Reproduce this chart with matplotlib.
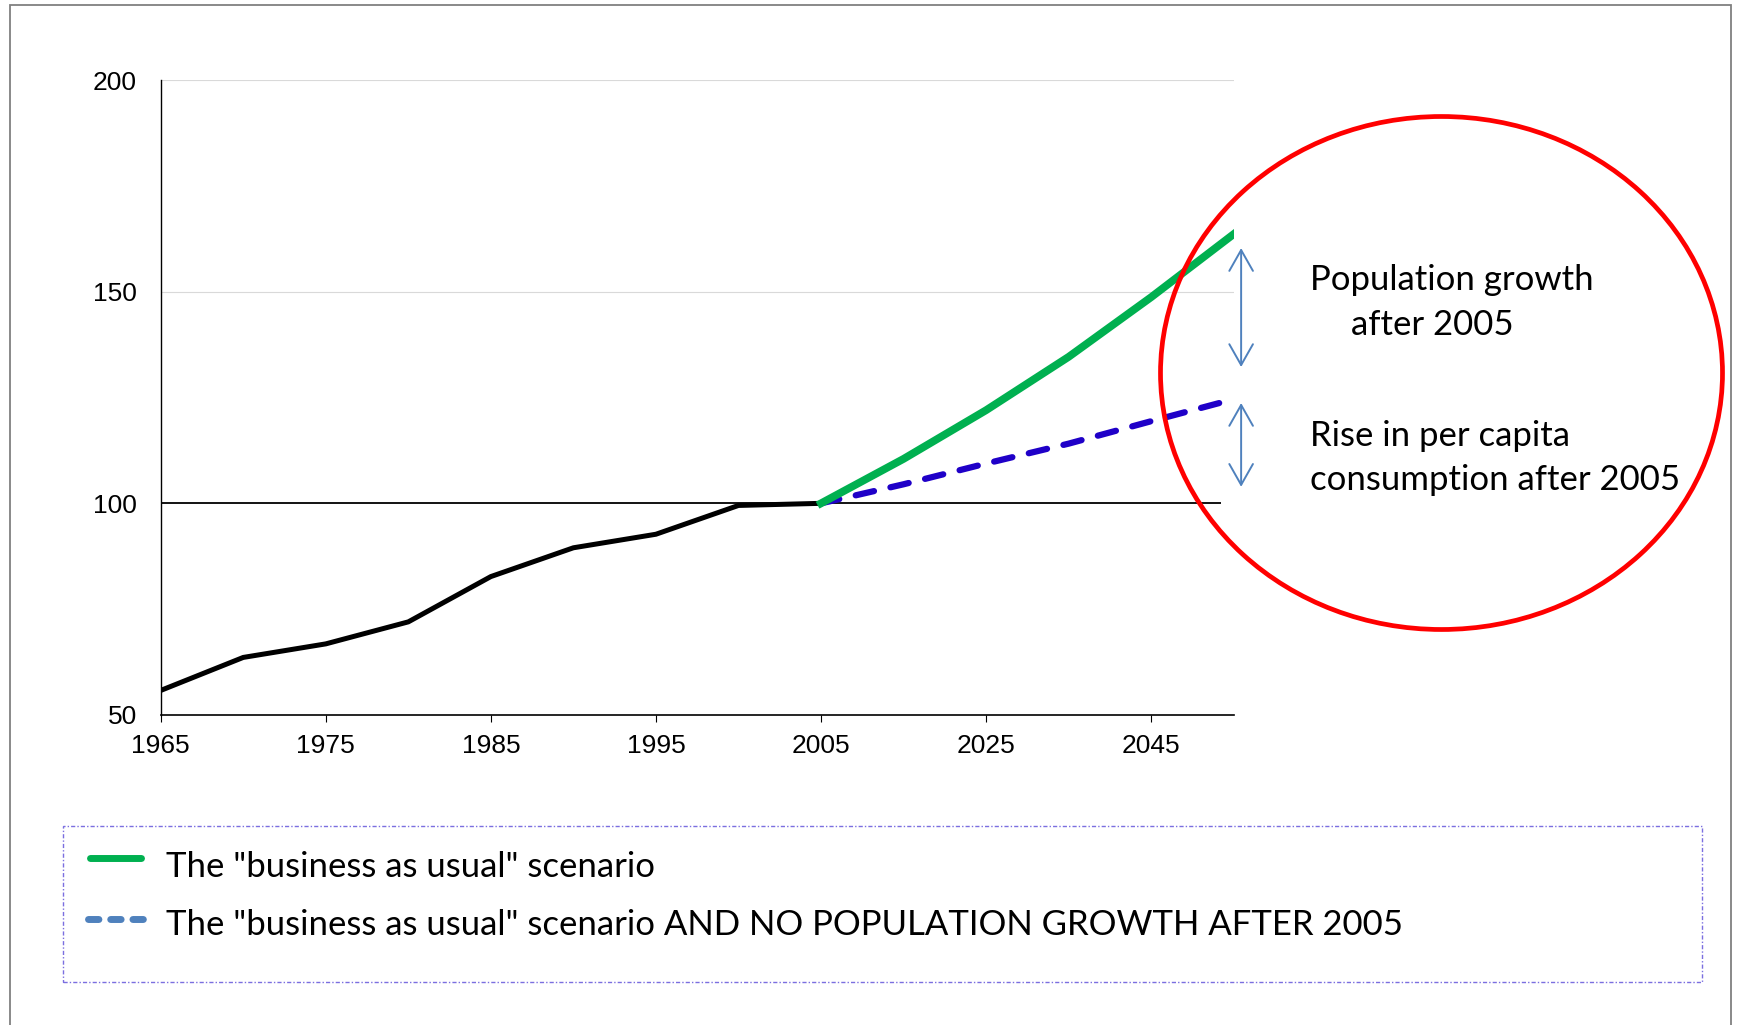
import matplotlib
matplotlib.use('Agg')
import matplotlib.pyplot as plt
from matplotlib.patches import Ellipse, Rectangle
from matplotlib.lines import Line2D
import numpy as np

# Category axis: five-year steps up to 2005, then ten-year steps
years = ['1965', '1970', '1975', '1980', '1985', '1990', '1995', '2000', '2005',
         '2015', '2025', '2035', '2045', '2050']
historic = [55.8, 63.6, 66.8, 72.0, 82.7, 89.5, 92.7, 99.5, 100.0]
business_as_usual = [100.0, 110.5, 122.0, 134.6, 148.7, 163.6]
no_population_growth = [100.0, 104.5, 109.4, 114.1, 119.4, 124.6]
y_ticks = [50, 100, 150, 200]

# Bracketed gaps at the right end (value ranges)
gap_population = (160.3, 132.2)
gap_per_capita = (123.7, 103.9)

W, H = 1738, 1025
fig = plt.figure(figsize=(W / 100, H / 100), dpi=100)
ax = fig.add_axes([160.7 / W, 1 - 715 / H, (1233.7 - 160.7) / W, (715 - 80) / H])

x_hist = np.arange(len(historic))
x_proj = np.arange(len(historic) - 1, len(years))

for v in [150, 200]:
    ax.axhline(v, color='#D9D9D9', lw=0.8, zorder=0)
ax.hlines(100, 0, 12.85, color='black', lw=1.3, zorder=1)

ax.plot(x_hist, historic, color='black', lw=3.6, solid_joinstyle='miter', zorder=3)
ax.plot(x_proj, no_population_growth, color='#1F00C8', lw=4.5,
        dashes=(3.0, 2.7), dash_capstyle='round', zorder=3)
ax.plot(x_proj, business_as_usual, color='#00B050', lw=5.6, zorder=4)

ax.set_xlim(0, len(years) - 1)
ax.set_ylim(50, 200)
ax.set_yticks(y_ticks)
ax.set_xticks(np.arange(0, len(years), 2))
ax.set_xticklabels(years[::2])

for s in ['top', 'right']:
    ax.spines[s].set_visible(False)
ax.spines['left'].set_linewidth(1.0)
ax.spines['bottom'].set_linewidth(1.2)
ax.tick_params(axis='y', length=0, pad=17, labelsize=19)
ax.tick_params(axis='x', length=5, width=0.8, direction='out', pad=9, labelsize=19)
for lbl in ax.get_xticklabels() + ax.get_yticklabels():
    lbl.set_fontfamily('Liberation Sans')

# Double-headed arrows next to the end of the projections
arrow_x = 13.09
for top, bottom in [gap_population, gap_per_capita]:
    ax.annotate('', xy=(arrow_x, top), xytext=(arrow_x, bottom),
                arrowprops=dict(arrowstyle='<->,head_length=1.5,head_width=0.85',
                                color='#4F81BD', lw=1.4, shrinkA=0, shrinkB=0),
                annotation_clip=False)

# Red ellipse around the annotation
fig.add_artist(Ellipse((1441.5 / W, 1 - 373 / H), 562 / W, 513 / H,
                       transform=fig.transFigure, fill=False,
                       edgecolor='#FF0000', lw=3.4))

note_font = dict(family='Lato', fontsize=25, color='black', va='center', ha='left')
fig.text(1310 / W, 1 - 280 / H, 'Population growth', **note_font)
fig.text(1351 / W, 1 - 325 / H, 'after 2005', **note_font)
fig.text(1310 / W, 1 - 436 / H, 'Rise in per capita', **note_font)
fig.text(1310 / W, 1 - 480 / H, 'consumption after 2005', **note_font)

# Legend panel with dotted frame
fig.add_artist(Rectangle((63 / W, 1 - 982 / H), (1702 - 63) / W, (982 - 826) / H,
                         transform=fig.transFigure, fill=False,
                         edgecolor='#7B6FE0', lw=1.0, linestyle=(0, (3, 1.5, 1, 1.5))))
fig.add_artist(Line2D([90 / W, 141 / W], [1 - 858 / H, 1 - 858 / H],
                      transform=fig.transFigure, color='#00B050', lw=5.0,
                      solid_capstyle='round'))
fig.add_artist(Line2D([87.5 / W, 143.5 / W], [1 - 919 / H, 1 - 919 / H],
                      transform=fig.transFigure, color='#4F81BD', lw=5.0,
                      dashes=(1.5, 1.7), dash_capstyle='round'))
legend_font = dict(family='Lato', fontsize=25, color='black', va='center', ha='left')
fig.text(166 / W, 1 - 867 / H, 'The "business as usual" scenario', **legend_font)
fig.text(166 / W, 1 - 925 / H,
         'The "business as usual" scenario AND NO POPULATION GROWTH AFTER 2005',
         **legend_font)

# Outer frame
fig.add_artist(Rectangle((10 / W, -0.02), (1731 - 10) / W, 1.02 - 5 / H,
                         transform=fig.transFigure, fill=False,
                         edgecolor='#808080', lw=1.3))

fig.savefig('out.png', dpi=100)
